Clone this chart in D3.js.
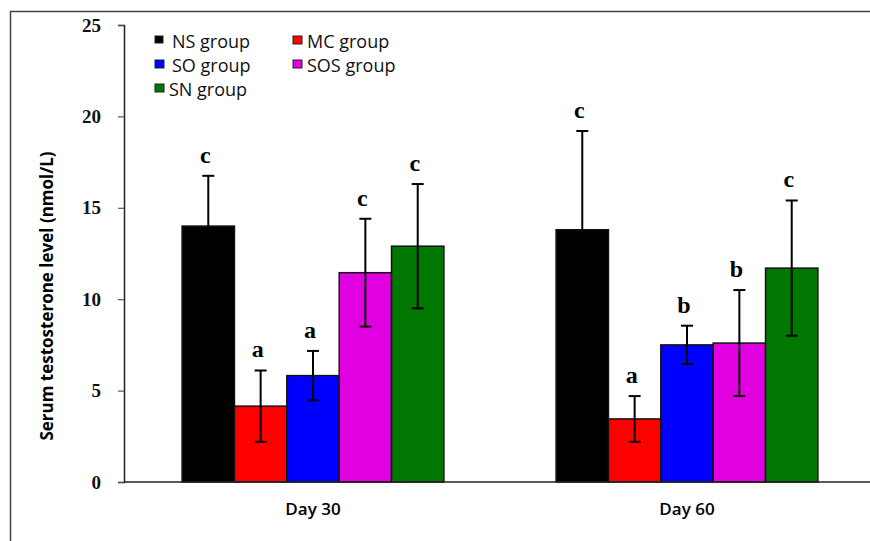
<!DOCTYPE html>
<meta charset="utf-8">
<style>
    body { margin: 0; background: #fff; }
    .tick text { font-family: "Liberation Serif", "Times New Roman", serif; font-weight: bold; font-size: 19px; }
    .sans { font-family: "Open Sans", "Noto Sans", sans-serif; }
</style>
<svg width="870" height="541"></svg>
<script src="https://d3js.org/d3.v7.min.js"></script>
<script>
    // data
    const days = ["Day 30", "Day 60"];
    const groups = ["NS group", "MC group", "SO group", "SOS group", "SN group"];
    const colors = ["#000000", "#ff0000", "#0000ff", "#e000e0", "#007800"];
    const means30 = [14.0, 4.15, 5.82, 11.45, 12.9];
    const means60 = [13.8, 3.45, 7.5, 7.6, 11.7];
    const sd30 = [2.75, 1.95, 1.35, 2.95, 3.4];
    const sd60 = [5.4, 1.25, 1.05, 2.9, 3.7];
    const letters30 = ["c", "a", "a", "c", "c"];
    const letters60 = ["c", "a", "b", "b", "c"];
    const yTicks = [0, 5, 10, 15, 20, 25];

    let svg = d3.select("svg");

    // outer frame (only top and left edges visible)
    svg.append("path")
        .attr("d", "M10.5,541 L10.5,11.5 L870,11.5")
        .attr("fill", "none")
        .attr("stroke", "#444")
        .attr("stroke-width", 1.5);

    let y = d3.scaleLinear().domain([0, 25]).range([482, 25]);
    let x0 = d3.scaleBand().domain(days).range([126, 874]).paddingInner(0.3).paddingOuter(0.15);
    let x1 = d3.scaleBand().domain(groups).range([0, x0.bandwidth()]);

    // y axis
    let yAxis = svg.append("g")
        .attr("transform", "translate(124,0)")
        .call(d3.axisLeft(y).tickValues(yTicks).tickSize(6).tickPadding(17));
    yAxis.select(".domain").attr("stroke", "#222").attr("stroke-width", 1.5);
    yAxis.selectAll(".tick line").attr("stroke", "#555").attr("stroke-width", 1.2);
    yAxis.selectAll(".tick text").attr("fill", "#111");

    // bars
    const rows = [
        { day: days[0], means: means30, sd: sd30, letters: letters30 },
        { day: days[1], means: means60, sd: sd60, letters: letters60 }
    ];

    rows.forEach(function(r) {
        let g = svg.append("g").attr("transform", "translate(" + x0(r.day) + ",0)");
        let d = groups.map(function(name, i) {
            return { name: name, mean: r.means[i], sd: r.sd[i], letter: r.letters[i], color: colors[i] };
        });

        g.selectAll("rect")
            .data(d)
            .enter().append("rect")
            .attr("x", function(e) { return x1(e.name); })
            .attr("y", function(e) { return y(e.mean); })
            .attr("width", x1.bandwidth())
            .attr("height", function(e) { return y(0) - y(e.mean); })
            .attr("fill", function(e) { return e.color; })
            .attr("stroke", "#111")
            .attr("stroke-width", 1.5);

        let cx = function(e) { return x1(e.name) + x1.bandwidth() / 2; };

        // error bars
        let err = g.selectAll(".err").data(d).enter().append("g").attr("class", "err");
        err.append("line")
            .attr("x1", cx).attr("x2", cx)
            .attr("y1", function(e) { return y(e.mean + e.sd); })
            .attr("y2", function(e) { return y(e.mean - e.sd); })
            .attr("stroke", "#000").attr("stroke-width", 2);
        err.append("line")
            .attr("x1", function(e) { return cx(e) - 6; })
            .attr("x2", function(e) { return cx(e) + 6; })
            .attr("y1", function(e) { return y(e.mean + e.sd); })
            .attr("y2", function(e) { return y(e.mean + e.sd); })
            .attr("stroke", "#000").attr("stroke-width", 2);
        err.append("line")
            .attr("x1", function(e) { return cx(e) - 6; })
            .attr("x2", function(e) { return cx(e) + 6; })
            .attr("y1", function(e) { return y(e.mean - e.sd); })
            .attr("y2", function(e) { return y(e.mean - e.sd); })
            .attr("stroke", "#000").attr("stroke-width", 2);

        // significance letters
        g.selectAll(".letter")
            .data(d)
            .enter().append("text")
            .attr("class", "letter")
            .attr("x", function(e) { return cx(e) - 3; })
            .attr("y", function(e) { return y(e.mean + e.sd) - 13; })
            .attr("text-anchor", "middle")
            .attr("font-family", "'Liberation Serif', 'Times New Roman', serif")
            .attr("font-weight", "bold")
            .attr("font-size", 24)
            .text(function(e) { return e.letter; });
    });

    // x axis baseline
    svg.append("line")
        .attr("x1", 124).attr("x2", 870)
        .attr("y1", y(0)).attr("y2", y(0))
        .attr("stroke", "#222").attr("stroke-width", 1.5);

    // x category labels
    svg.selectAll(".daylab")
        .data(days)
        .enter().append("text")
        .attr("class", "sans")
        .attr("x", function(d) { return x0(d) + x0.bandwidth() / 2; })
        .attr("y", 515)
        .attr("text-anchor", "middle")
        .attr("font-size", 17)
        .attr("font-weight", 600)
        .text(function(d) { return d; });

    // y axis title
    svg.append("text")
        .attr("class", "sans")
        .attr("transform", "translate(53,296) rotate(-90)")
        .attr("text-anchor", "middle")
        .attr("font-size", 17)
        .attr("font-weight", "bold")
        .text("Serum testosterone level (nmol/L)");

    // legend
    const legendPos = [[155, 40], [293, 40], [155, 64], [293, 64], [155, 88]];
    let leg = svg.append("g").selectAll("g")
        .data(groups)
        .enter().append("g")
        .attr("transform", function(d, i) { return "translate(" + legendPos[i][0] + "," + legendPos[i][1] + ")"; });
    leg.append("rect")
        .attr("x", 0).attr("y", -4)
        .attr("width", function(d, i) { return i === 0 ? 8 : 9; })
        .attr("height", function(d, i) { return i === 0 ? 7 : 8; })
        .attr("fill", function(d, i) { return colors[i]; })
        .attr("stroke", "#222")
        .attr("stroke-width", 1);
    leg.append("text")
        .attr("class", "sans")
        .attr("x", function(d, i) { return i === 0 || i === 2 ? 17 : 14; })
        .attr("y", 8)
        .attr("font-size", 18)
        .attr("font-weight", 500)
        .attr("fill", "#111")
        .text(function(d) { return d; });
</script>
<body>
</body>
